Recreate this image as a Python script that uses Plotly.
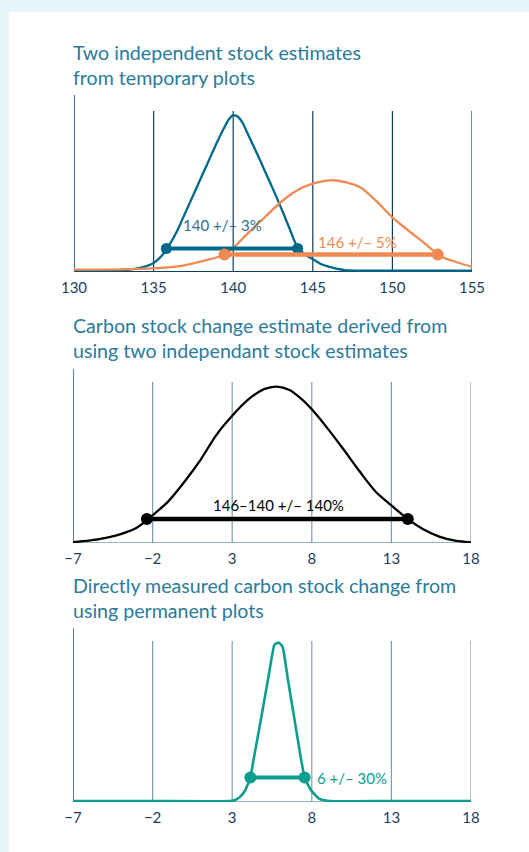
import plotly.graph_objects as go

W, H = 529, 852

# ---------------- data ----------------
p1_ticks = [130, 135, 140, 145, 150, 155]
p23_ticks = [-7, -2, 3, 8, 13, 18]

blue_x = [130, 132, 133.5, 134.5, 135, 135.5, 136, 136.5, 137, 137.5, 138, 138.5, 139, 139.4, 139.7, 140, 140.3,
          140.6, 141, 141.5, 142, 142.5, 143, 143.5, 144, 144.5, 145, 145.5, 146, 147, 148, 150, 155]
blue_y = [0.01, 0.01, 0.015, 0.035, 0.056, 0.1, 0.17, 0.26, 0.37, 0.48, 0.59, 0.70, 0.81, 0.89, 0.945, 0.975, 0.965,
          0.925, 0.84, 0.735, 0.625, 0.515, 0.40, 0.28, 0.16, 0.11, 0.08, 0.05, 0.033, 0.012, 0.009, 0.008, 0.008]

orange_x = [130, 133, 135, 136.5, 137.8, 139.5, 140.9, 142.0, 143.0, 144.0, 145.0, 146.1, 147.1, 148, 149, 150,
            151, 152, 153, 154, 155]
orange_y = [0.015, 0.016, 0.022, 0.035, 0.062, 0.11, 0.238, 0.342, 0.435, 0.507, 0.549, 0.57, 0.557, 0.525, 0.44,
            0.34, 0.258, 0.18, 0.10, 0.062, 0.031]

blue_ci = [135.8, 144.05]
blue_ci_y = 0.146
orange_ci = [139.45, 152.85]
orange_ci_y = 0.108

black_x = [-7, -6, -5, -4, -3, -2, -1, 0, 1, 2, 3, 4, 5, 5.8, 6.6, 7.4, 8, 9, 10, 11, 12, 13, 14, 15, 16, 17, 18]
black_y = [0.006, 0.015, 0.03, 0.055, 0.095, 0.172, 0.26, 0.38, 0.515, 0.67, 0.79, 0.89, 0.955, 0.971, 0.95, 0.89,
           0.83, 0.71, 0.58, 0.445, 0.32, 0.233, 0.151, 0.085, 0.04, 0.015, 0.004]
black_ci = [-2.36, 14.03]
black_ci_y = 0.149

teal_x = [-7, -2, 2.9, 3.2, 3.47, 3.8, 4.14, 4.3, 4.8, 5.3, 5.65, 5.9, 6.16, 6.5, 7.0, 7.3, 7.55, 7.95, 8.45,
          9.1, 13, 18]
teal_y = [0.006, 0.006, 0.006, 0.012, 0.03, 0.07, 0.15, 0.24, 0.51, 0.79, 0.975, 0.99, 0.965, 0.76, 0.46, 0.28,
          0.15, 0.073, 0.021, 0.006, 0.006, 0.006]
teal_ci = [4.14, 7.55]
teal_ci_y = 0.152

titles = ["Two independent stock estimates<br>from temporary plots",
          "Carbon stock change estimate derived from<br>using two independant stock estimates",
          "Directly measured carbon stock change from<br>using permanent plots"]

# ---------------- style ----------------
FONT = "Lato"
BG = "#e8f4fc"
TITLE_C = "#2b7b9a"
NAVY = "#0f3d5c"
GRID2 = "#7f9cad"
BLUE = "#00698b"
ORANGE = "#f08a52"
TEAL = "#0a9e8e"
TICK_C = "#1d3f5e"


def py(px):
    return 1 - px / H


def pxx(px):
    return px / W


fig = go.Figure()

panels = [
    dict(x=(74, 472), y=(95, 272), yr=1.1, ticks=p1_ticks),
    dict(x=(73, 471), y=(369, 543), yr=1.08, ticks=p23_ticks),
    dict(x=(73, 471), y=(628, 802), yr=1.08, ticks=p23_ticks),
]

for i, p in enumerate(panels):
    sfx = "" if i == 0 else str(i + 1)
    fig.layout["xaxis" + sfx] = dict(domain=[pxx(p["x"][0]), pxx(p["x"][1])], range=[p["ticks"][0], p["ticks"][-1]],
                                     anchor="y" + sfx, tickvals=p["ticks"], ticks="", showgrid=False,
                                     zeroline=False, showline=False, fixedrange=True, automargin=False,
                                     tickfont=dict(family=FONT, size=15, color=TICK_C), ticklabelstandoff=5)
    fig.layout["yaxis" + sfx] = dict(domain=[py(p["y"][1]), py(p["y"][0])], range=[0, p["yr"]],
                                     anchor="x" + sfx, visible=False, fixedrange=True, automargin=False)


def add_frame(ticks, yr, xref, yref, gcol, axcol, basecol, basew):
    for t in ticks[1:]:
        fig.add_shape(type="line", xref=xref, yref=yref, x0=t, x1=t, y0=0, y1=1.0,
                      line=dict(color=gcol, width=1.2), layer="below")
    fig.add_shape(type="line", xref=xref, yref=yref, x0=ticks[0], x1=ticks[0], y0=0, y1=yr,
                  line=dict(color=axcol, width=1.5), layer="below")
    fig.add_shape(type="line", xref=xref, yref=yref, x0=ticks[0], x1=ticks[-1], y0=0, y1=0,
                  line=dict(color=basecol, width=basew), layer="below")


add_frame(p1_ticks, 1.1, "x", "y", NAVY, NAVY, NAVY, 2)
add_frame(p23_ticks, 1.08, "x2", "y2", GRID2, "#2f4f66", GRID2, 1.5)
add_frame(p23_ticks, 1.08, "x3", "y3", GRID2, "#2f4f66", GRID2, 1.5)

fig.add_shape(type="rect", xref="paper", yref="paper", x0=pxx(9), x1=1.0, y0=0, y1=py(12),
              fillcolor="white", line=dict(width=0), layer="below")


def curve(x, y, col, w, xa, ya, sm=0.6):
    fig.add_trace(go.Scatter(x=x, y=y, mode="lines", line=dict(color=col, width=w, shape="spline", smoothing=sm),
                             xaxis=xa, yaxis=ya, hoverinfo="skip", cliponaxis=False))


def ci(xs, yv, col, xa, ya, w=4, ms=11):
    fig.add_trace(go.Scatter(x=xs, y=[yv, yv], mode="lines+markers", line=dict(color=col, width=w),
                             marker=dict(color=col, size=ms), xaxis=xa, yaxis=ya, hoverinfo="skip",
                             cliponaxis=False))


curve(blue_x, blue_y, BLUE, 2.3, "x", "y", 0.5)
curve(orange_x, orange_y, ORANGE, 2.3, "x", "y", 0.8)
ci(blue_ci, blue_ci_y, BLUE, "x", "y", w=4, ms=11)
ci(orange_ci, orange_ci_y, ORANGE, "x", "y", w=4.5, ms=12)

curve(black_x, black_y, "black", 2.3, "x2", "y2", 0.8)
ci(black_ci, black_ci_y, "black", "x2", "y2", w=4.5, ms=12)

curve(teal_x, teal_y, TEAL, 2.6, "x3", "y3", 0.4)
ci(teal_ci, teal_ci_y, TEAL, "x3", "y3", w=4, ms=12)

fig.add_annotation(x=136.7, y=0.29, xref="x", yref="y", text="140 +/– 3%", showarrow=False, xanchor="left",
                   font=dict(family=FONT, size=15, color="#2d6f8d"))
fig.add_annotation(x=145.2, y=0.188, xref="x", yref="y", text="146 +/– 5%", showarrow=False, xanchor="left",
                   font=dict(family=FONT, size=15, color=ORANGE))
fig.add_annotation(x=5.93, y=0.237, xref="x2", yref="y2", text="146–140 +/– 140%", showarrow=False,
                   xanchor="center", font=dict(family=FONT, size=15, color="black"))
fig.add_annotation(x=8.2, y=teal_ci_y, xref="x3", yref="y3", text="6 +/– 30%", showarrow=False, xanchor="left",
                   font=dict(family=FONT, size=15, color=TEAL))

for t, yc in zip(titles, [65, 338.5, 598]):
    fig.add_annotation(x=pxx(71), y=py(yc), xref="paper", yref="paper", text=t, showarrow=False,
                       xanchor="left", yanchor="middle", align="left",
                       font=dict(family=FONT, size=19.6, color=TITLE_C))

fig.update_layout(width=W, height=H, margin=dict(l=0, r=0, t=0, b=0, pad=0, autoexpand=False), paper_bgcolor=BG,
                  plot_bgcolor="rgba(0,0,0,0)", showlegend=False, autosize=False)

fig.write_html("out.html", config={"displayModeBar": False},
               post_script="document.body.style.margin='0';document.body.style.overflow='hidden';"
                           "document.documentElement.style.background='" + BG + "';")
